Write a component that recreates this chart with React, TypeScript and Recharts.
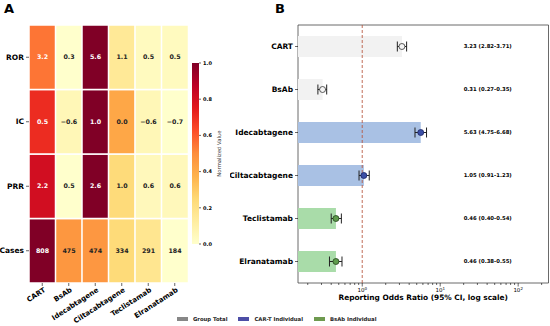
import React from "react";
import {
  BarChart,
  Bar,
  XAxis,
  YAxis,
  Cell,
  LabelList,
  ComposedChart,
  Scatter,
  ErrorBar,
  ReferenceLine,
  ReferenceArea,
} from "recharts";

// panel A: heatmap
const drugs = ["CART", "BsAb", "Idecabtagene", "Ciltacabtagene", "Teclistamab", "Elranatamab"];
const metrics = ["ROR", "IC", "PRR", "Cases"];
const rorValues = [3.2, 0.3, 5.6, 1.1, 0.5, 0.5];
const icValues = [0.5, -0.6, 1.0, 0.0, -0.6, -0.7];
const prrValues = [2.2, 0.5, 2.6, 1.0, 0.6, 0.6];
const caseCounts = [808, 475, 474, 334, 291, 184];
const colorbarTicks = [0, 0.2, 0.4, 0.6, 0.8, 1.0];

// panel B: forest plot
const orValues = [3.23, 0.31, 5.63, 1.05, 0.46, 0.46];
const ciLow = [2.82, 0.27, 4.75, 0.91, 0.4, 0.38];
const ciHigh = [3.71, 0.35, 6.68, 1.23, 0.54, 0.55];
const drugGroups = [
  "Group Total",
  "Group Total",
  "CAR-T Individual",
  "CAR-T Individual",
  "BsAb Individual",
  "BsAb Individual",
];
const logMajorTicks = [1, 10, 100];
const logMinorTicks = [0.2, 0.3, 0.4, 0.5, 0.6, 0.7, 0.8, 0.9, 2, 3, 4, 5, 6, 7, 8, 9, 20, 30, 40, 50, 60, 70, 80, 90, 200];
const orDomain = [0.15, 245];
const annotationAt = 20;

const groupStyle: Record<string, { bar: string; dot: string; edge: string; legend: string }> = {
  "Group Total": { bar: "#f2f2f2", dot: "#f4f4f4", edge: "#333", legend: "#878787" },
  "CAR-T Individual": { bar: "#a9c1e4", dot: "#3b4fa6", edge: "#1b2364", legend: "#4d4ea6" },
  "BsAb Individual": { bar: "#a9dca9", dot: "#5f9c4c", edge: "#23431c", legend: "#6e9a4f" },
};

const YLORRD = ["#ffffcc", "#ffeda0", "#fed976", "#feb24c", "#fd8d3c", "#fc4e2a", "#e31a1c", "#bd0026", "#800026"];

const hex = (c: string) => [1, 3, 5].map((i) => parseInt(c.slice(i, i + 2), 16));
const ylOrRd = (t: number) => {
  const s = Math.max(0, Math.min(1, t)) * 8;
  const i = Math.min(7, Math.floor(s));
  const f = s - i;
  const a = hex(YLORRD[i]);
  const b = hex(YLORRD[i + 1]);
  return `rgb(${a.map((v, k) => Math.round(v + (b[k] - v) * f)).join(",")})`;
};
const normalize = (arr: number[]) => {
  const lo = Math.min(...arr);
  const hi = Math.max(...arr);
  return arr.map((v) => (v - lo) / (hi - lo));
};
const fmt1 = (v: number) => v.toFixed(1).replace("-", "\u2212");

// stacked bottom -> top
const heatRows = [
  { key: "cases", label: metrics[3], values: caseCounts, fmt: (v: number) => String(v) },
  { key: "prr", label: metrics[2], values: prrValues, fmt: fmt1 },
  { key: "ic", label: metrics[1], values: icValues, fmt: fmt1 },
  { key: "ror", label: metrics[0], values: rorValues, fmt: fmt1 },
];

const heatData = drugs.map((name) => {
  const row: any = { name };
  heatRows.forEach((r) => (row[r.key] = 1));
  return row;
});

const forestData = drugs.map((name, i) => ({
  name,
  or: orValues[i],
  err: [orValues[i] - ciLow[i], ciHigh[i] - orValues[i]],
  group: drugGroups[i],
  annotX: annotationAt,
  text: `${orValues[i].toFixed(2)} (${ciLow[i].toFixed(2)}-${ciHigh[i].toFixed(2)})`,
}));

const legendItems = ["Group Total", "CAR-T Individual", "BsAb Individual"];

const RotatedTick = (p: any) => (
  <text
    transform={`translate(${p.x + 1},${p.y - 1}) rotate(-33)`}
    textAnchor="end"
    dy="0.7em"
    fontSize={7}
    fontWeight="bold"
    fill="#000"
  >
    {p.payload.value}
  </text>
);

const LogTick = (p: any) => {
  const v = p.payload.value;
  const major = logMajorTicks.includes(v);
  return (
    <g>
      <line x1={p.x} x2={p.x} y1={p.y} y2={p.y + (major ? 3.5 : 2)} stroke="#000" strokeWidth={0.6} />
      {major && (
        <text x={p.x} y={p.y + 9} textAnchor="middle" fontSize={5.5} fill="#000">
          10
          <tspan dy={-2.5} fontSize={4}>
            {Math.round(Math.log10(v))}
          </tspan>
        </text>
      )}
    </g>
  );
};

const Marker = (p: any) => {
  const s = groupStyle[p.payload.group];
  return <circle cx={p.cx} cy={p.cy} r={3} fill={s.dot} stroke={s.edge} strokeWidth={0.8} />;
};

const AnnotText = (p: any) => (
  <text x={p.cx} y={p.cy} dy="0.35em" fontSize={5.3} fontWeight="bold" fill="#000">
    {p.payload.text}
  </text>
);

export default function App() {
  return (
    <div
      style={{
        position: "absolute",
        left: 0,
        top: 0,
        width: 550,
        height: 326,
        background: "#fff",
        fontFamily: "'DejaVu Sans', sans-serif",
        overflow: "hidden",
      }}
    >
      <div style={{ position: "absolute", left: 4, top: 1, fontSize: 13, fontWeight: "bold" }}>A</div>
      <div style={{ position: "absolute", left: 275, top: 1, fontSize: 13, fontWeight: "bold" }}>B</div>

      <div style={{ position: "absolute", left: 0, top: 0 }}>
        <BarChart
          width={190}
          height={326}
          data={heatData}
          margin={{ top: 25, right: 2, bottom: 0, left: 0 }}
          barCategoryGap={0}
        >
          <XAxis
            dataKey="name"
            interval={0}
            height={43}
            axisLine={false}
            tickSize={3}
            tickMargin={2}
            tickLine={{ stroke: "#000", strokeWidth: 0.6 }}
            tick={(p: any) => <RotatedTick {...p} />}
          />
          <YAxis
            type="number"
            domain={[0, 4]}
            ticks={[0.5, 1.5, 2.5, 3.5]}
            interval={0}
            width={29}
            axisLine={false}
            tickSize={3}
            tickMargin={2}
            tickLine={{ stroke: "#000", strokeWidth: 0.6 }}
            tickFormatter={(v: number) => heatRows[Math.floor(v)].label}
            tick={{ fontSize: 7.5, fontWeight: "bold", fill: "#000" }}
          />
          {heatRows.map((r) => {
            const n = normalize(r.values);
            return (
              <Bar key={r.key} dataKey={r.key} stackId="h" stroke="#fff" strokeWidth={1.5} isAnimationActive={false}>
                {drugs.map((d, i) => (
                  <Cell key={d} fill={ylOrRd(n[i])} />
                ))}
                <LabelList
                  dataKey={r.key}
                  content={(p: any) => (
                    <text
                      x={p.x + p.width / 2}
                      y={p.y + p.height / 2}
                      dy="0.35em"
                      textAnchor="middle"
                      fontSize={6.3}
                      fontWeight="bold"
                      fill={n[p.index] > 0.5 ? "#fff" : "#222"}
                    >
                      {r.fmt(r.values[p.index])}
                    </text>
                  )}
                />
              </Bar>
            );
          })}
        </BarChart>
      </div>

      <div style={{ position: "absolute", left: 192, top: 58 }}>
        <BarChart
          width={37}
          height={191}
          data={[{ name: "scale", top: 1 }]}
          margin={{ top: 5, right: 0, bottom: 5, left: 0 }}
          barCategoryGap={0}
        >
          <defs>
            <linearGradient id="cbar" x1="0" y1="1" x2="0" y2="0">
              {YLORRD.map((c, i) => (
                <stop key={c} offset={i / 8} stopColor={c} />
              ))}
            </linearGradient>
          </defs>
          <XAxis dataKey="name" hide />
          <YAxis
            orientation="right"
            type="number"
            domain={[0, 1]}
            ticks={colorbarTicks}
            interval={0}
            width={30}
            axisLine={false}
            tickSize={2}
            tickMargin={2}
            tickLine={{ stroke: "#000", strokeWidth: 0.6 }}
            tickFormatter={(v: number) => v.toFixed(1)}
            tick={{ fontSize: 5, fontWeight: "bold", fill: "#000" }}
            label={(p: any) => {
              const vb = p.viewBox;
              return (
                <text
                  transform={`translate(${vb.x + 22},${vb.y + vb.height / 2}) rotate(-90)`}
                  textAnchor="middle"
                  fontSize={5.3}
                  fill="#333"
                >
                  Normalized Value
                </text>
              );
            }}
          />
          <Bar dataKey="top" fill="url(#cbar)" isAnimationActive={false} />
        </BarChart>
      </div>

      <div style={{ position: "absolute", left: 230, top: 0 }}>
        <ComposedChart
          layout="vertical"
          width={320}
          height={326}
          data={forestData}
          margin={{ top: 25, right: 1.5, bottom: 0, left: 0 }}
        >
          <XAxis
            type="number"
            scale="log"
            domain={orDomain}
            allowDataOverflow
            ticks={[...logMinorTicks, ...logMajorTicks]}
            interval={0}
            height={43}
            axisLine={false}
            tickLine={false}
            tickSize={0}
            tickMargin={0}
            tick={(p: any) => <LogTick {...p} />}
            label={{
              value: "Reporting Odds Ratio (95% CI, log scale)",
              position: "insideBottom",
              offset: 26,
              fill: "#000",
              fontSize: 7.4,
              fontWeight: "bold",
            }}
          />
          <YAxis
            type="category"
            dataKey="name"
            width={68}
            axisLine={false}
            tickSize={3}
            tickMargin={2}
            tickLine={{ stroke: "#000", strokeWidth: 0.6 }}
            tick={{ fontSize: 7.5, fontWeight: "bold", fill: "#000" }}
          />
          <Bar dataKey="or" barSize={21} isAnimationActive={false}>
            {forestData.map((d) => (
              <Cell key={d.name} fill={groupStyle[d.group].bar} />
            ))}
          </Bar>
          <ReferenceLine x={1} stroke="#b5533c" strokeWidth={1} strokeDasharray="3 2" strokeOpacity={0.85} />
          <Scatter dataKey="or" shape={Marker} isAnimationActive={false}>
            <ErrorBar dataKey="err" direction="x" width={5} stroke="#222" strokeWidth={1} />
          </Scatter>
          <Scatter dataKey="annotX" shape={AnnotText} isAnimationActive={false} />
          <ReferenceArea x1={orDomain[0]} x2={orDomain[1]} fill="none" stroke="#444" strokeWidth={0.8} />
        </ComposedChart>
      </div>

      <div
        style={{
          position: "absolute",
          left: 177,
          top: 315,
          display: "flex",
          alignItems: "center",
          gap: 11,
          fontSize: 5.3,
          fontWeight: "bold",
          color: "#222",
          lineHeight: "8px",
        }}
      >
        {legendItems.map((g) => (
          <div key={g} style={{ display: "flex", alignItems: "center" }}>
            <span
              style={{ display: "inline-block", width: 11, height: 4, background: groupStyle[g].legend, marginRight: 5 }}
            />
            {g}
          </div>
        ))}
      </div>
    </div>
  );
}
